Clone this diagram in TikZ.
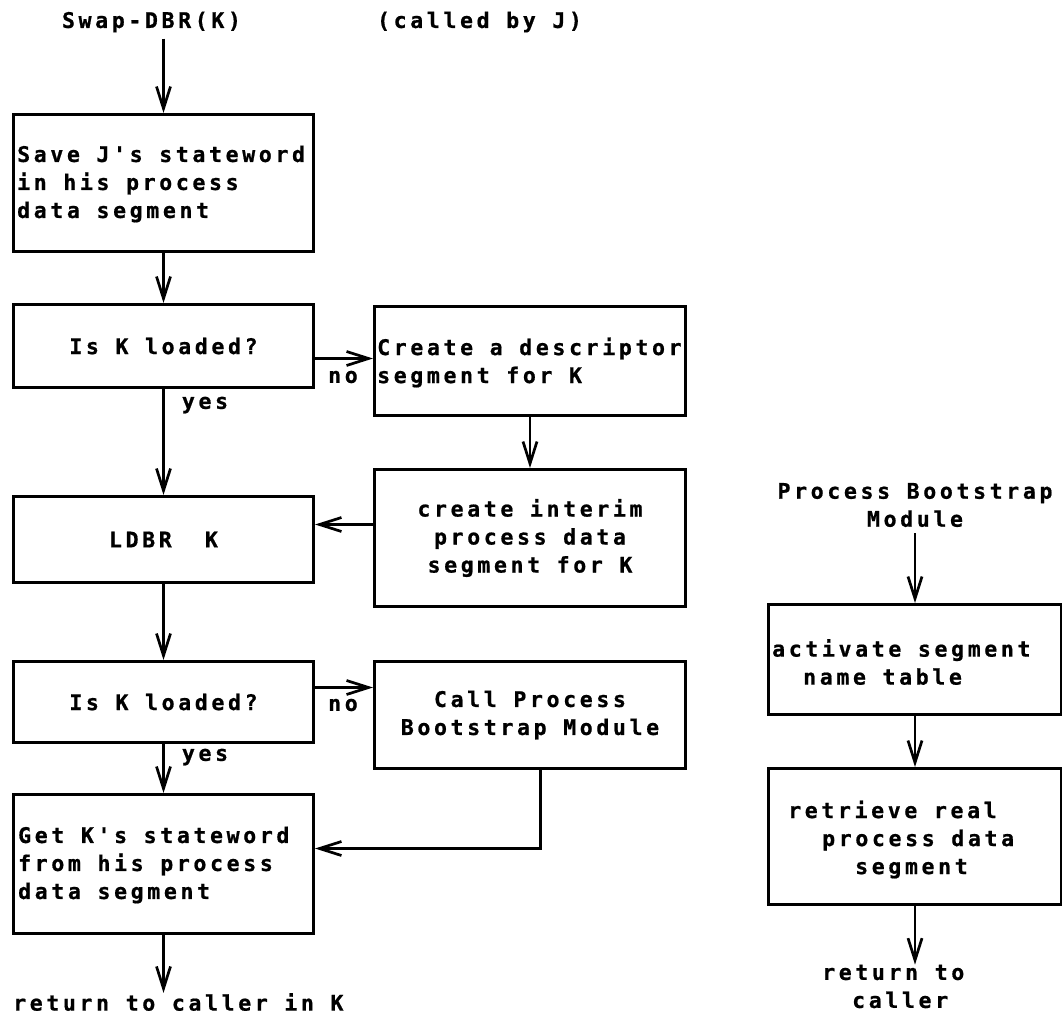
\documentclass[tikz,border=0pt]{standalone}
\usepackage{fontspec}
\newfontfamily\flowfont{DejaVu Sans Mono}[LetterSpace=17,Ligatures=TeXOff,BoldFeatures={FakeBold=0.8}]
\usetikzlibrary{arrows.meta}
\begin{document}
\begin{tikzpicture}[x=1pt,y=-1pt,
  every node/.style={font=\flowfont\bfseries\fontsize{21.5}{28}\selectfont, inner sep=0pt},
  box/.style={draw, line width=3pt, inner sep=0pt, anchor=north west, align=center},
  txt/.style={anchor=west, align=left},
  flow/.style={line width=2.7pt, -{Straight Barb[length=22pt,width=14pt]}}]
\useasboundingbox (0,0) rectangle (1062,1015);
% titles
\node (swap) at (151.5,22) {Swap-DBR(K)};
\node (called) at (479.5,22) {(called by J)};
% left column
\node[box, minimum width=300pt, minimum height=137pt] (b1) at (12,113) {};
\node[txt] (b1t) at (17,184) {Save J's stateword\\in his process\\data segment};
\node[box, minimum width=300pt, minimum height=83pt] (b2) at (12,303) {Is K loaded?};
\node[box, minimum width=300pt, minimum height=86pt] (b3) at (12,495) {LDBR\ \ K};
\node[box, minimum width=300pt, minimum height=81pt] (b4) at (12,660) {Is K loaded?};
\node[box, minimum width=300pt, minimum height=139pt] (b5) at (12,793) {};
\node[txt] (b5t) at (18,865) {Get K's stateword\\from his process\\data segment};
\node[txt] (ret) at (13,1002) {return to caller in K};
% middle column
\node[box, minimum width=311pt, minimum height=109pt] (desc) at (373,305) {};
\node[txt] (desct) at (377,362.5) {Create a descriptor\\segment for K};
\node[box, minimum width=311pt, minimum height=137pt] (interim) at (373,468)
  {create interim\\process data\\segment for K};
\node[box, minimum width=311pt, minimum height=107pt] (call) at (373,660)
  {Call Process\\Bootstrap Module};
% labels
\node (no1) at (343,377) {no};
\node (no2) at (343,705) {no};
\node (yes1) at (205,405) {yes};
\node (yes2) at (205,757) {yes};
% right column
\node[align=center] (pbm) at (915,505) {Process Bootstrap\\Module};
\node[box, minimum width=293pt, minimum height=110pt] (act) at (767,603) {};
\node[txt] (actt) at (772,662) {activate segment\\\hspace*{31pt}name table};
\node[box, minimum width=293pt, minimum height=136pt] (rtv) at (767,767) {};
\node[txt] (rtvt) at (788,839.5) {retrieve real\\\hspace*{34pt}process data\\\hspace*{67pt}segment};
\node[txt] (rc) at (822,986.5) {return to\\\hspace*{30pt}caller};
% connectors
\draw[flow, shorten <=6pt] (swap.south -| b1.north) -- (b1.north);
\draw[flow] (b1) -- (b2);
\draw[flow] (b2) -- (b3);
\draw[flow] (b3) -- (b4);
\draw[flow] (b4) -- (b5);
\draw[flow] (b5.south) -- (b5.south |- ret.north);
\draw[flow] ([yshift=-12.5pt]b2.east) -- ([yshift=-12.5pt]b2.east -| desc.west);
\draw[flow] (desc) -- (interim);
\draw[flow] ([yshift=13.5pt]interim.west) -- ([yshift=13.5pt]interim.west -| b3.east);
\draw[flow] ([yshift=14.5pt]b4.east) -- ([yshift=14.5pt]b4.east -| call.west);
\draw[flow] ([xshift=10.5pt]call.south) |- ([yshift=15.5pt]b5.east);
\draw[flow, shorten <=6pt] (pbm.south -| act.north) -- (act.north);
\draw[flow] (act) -- (rtv);
\draw[flow] (rtv.south) -- (rtv.south |- rc.north);
\end{tikzpicture}
\end{document}
